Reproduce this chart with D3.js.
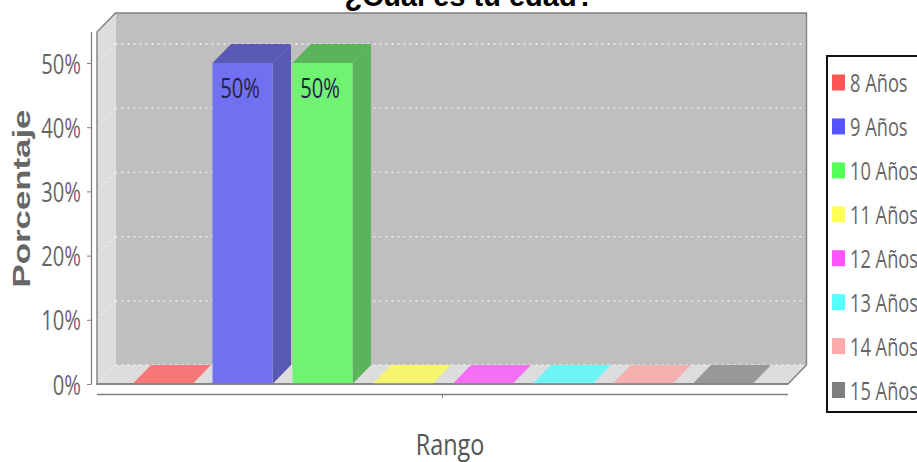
<!DOCTYPE html>
<html><head><meta charset="utf-8">
<script src="https://cdn.jsdelivr.net/npm/d3@7"></script>
<style>html,body{margin:0;padding:0;background:#fff;overflow:hidden}svg{display:block}</style>
</head><body><svg id="c" width="917" height="462"></svg>
<script>
const categories=["8 Años","9 Años","10 Años","11 Años","12 Años","13 Años","14 Años","15 Años"];
const values=[0,50,50,0,0,0,0,0];
const legendColors=["#ff5555","#5555ff","#55ff55","#ffff55","#ff55ff","#55ffff","#ffaaaa","#808080"];
const frontColors=["#f77777","#7070f0","#72f272","#f5f56f","#f56ff5","#6ff5f5","#f5b0b0","#989898"];
const sideColors=["#b45a5a","#5a5ab4","#5bb35b","#b4b45a","#b45ab4","#5ab4b4","#b48a8a","#707070"];
const yTicks=[0,10,20,30,40,50];
const title="¿Cuál es tu edad?", yTitle="Porcentaje", xTitle="Rango";

const svg=d3.select("#c");
const W=691,dx=18.5,dy=-19,x0=97,y0=384;
const y=d3.scaleLinear().domain([0,50]).range([384,63]);
const yTop=32;
const x=d3.scaleBand().domain(categories).range([x0,x0+W]).paddingInner(.25).paddingOuter(.444);
const poly=p=>p.map(d=>d.join(",")).join(" ");
const xr=x0+W;
const FONT="Open Sans";
// walls
svg.append("polygon").attr("points",poly([[x0+dx,yTop+dy],[xr+dx,yTop+dy],[xr+dx,y0+dy],[x0+dx,y0+dy]])).attr("fill","#bfbfbf");
svg.append("polygon").attr("points",poly([[x0,yTop],[x0+dx,yTop+dy],[x0+dx,y0+dy],[x0,y0]])).attr("fill","#dddddd");
svg.append("polygon").attr("points",poly([[x0,y0],[x0+dx,y0+dy],[xr+dx,y0+dy],[xr,y0]])).attr("fill","#dddddd");
// grid
yTicks.forEach(t=>{
 svg.append("line").attr("x1",x0+dx).attr("x2",xr+dx).attr("y1",y(t)+dy).attr("y2",y(t)+dy).attr("stroke","#f2f2f2").attr("stroke-width",1.3).attr("stroke-dasharray","2 4");
 svg.append("line").attr("x1",x0).attr("x2",x0+dx).attr("y1",y(t)).attr("y2",y(t)+dy).attr("stroke","#f2f2f2").attr("stroke-width",1.3).attr("stroke-dasharray","2 4");
});
// outline
svg.append("path").attr("d",`M${x0},${y0}V${yTop}L${x0+dx},${yTop+dy}H${xr+dx}V${y0+dy}L${xr},${y0}Z`).attr("fill","none").attr("stroke","#808080").attr("stroke-width",1.4);
// bars
categories.forEach((c,i)=>{
 const X=x(c),w=x.bandwidth(),Y=y(values[i]);
 const g=svg.append("g");
 g.append("polygon").attr("points",poly([[X+w,Y],[X+w+dx,Y+dy],[X+w+dx,y0+dy],[X+w,y0]])).attr("fill",sideColors[i]);
 g.append("polygon").attr("points",poly([[X,Y],[X+dx,Y+dy],[X+w+dx,Y+dy],[X+w,Y]])).attr("fill",values[i]?sideColors[i]:frontColors[i]);
 g.append("rect").attr("x",X).attr("y",Y).attr("width",w).attr("height",y0-Y).attr("fill",frontColors[i]);
 if(values[i]) g.append("text").attr("transform",`translate(${X+w/2-2.5},98) scale(.72,1)`).attr("text-anchor","middle")
   .attr("font-family",FONT).attr("font-size",28).attr("fill","#23234a").text(values[i]+"%");
});
svg.append("line").attr("x1",x0-1).attr("x2",xr).attr("y1",y0).attr("y2",y0).attr("stroke","#808080").attr("stroke-width",1.4);
// axes
const ya=svg.append("g").attr("transform","translate(91,0)").call(d3.axisLeft(y).tickValues(yTicks).tickSize(4).tickPadding(0).tickFormat(()=>""));
ya.select(".domain").attr("d",`M0.5,${yTop}V${y0+.5}`).attr("stroke","#808080").attr("stroke-width",1.3);
ya.selectAll(".tick line").attr("stroke","#808080");
yTicks.forEach(t=>{
 svg.append("text").attr("transform",`translate(81,${y(t)+10.5}) scale(.72,1)`).attr("text-anchor","end")
  .attr("font-family",FONT).attr("font-size",28).attr("fill","#666").text(t+"%");
});
const xb=d3.scaleBand().domain(["Rango"]).range([x0,xr]);
const xa=svg.append("g").attr("transform","translate(0,394)").call(d3.axisBottom(xb).tickSize(4).tickFormat(""));
xa.select(".domain").attr("d",`M${x0},0.5H${xr}`).attr("stroke","#808080").attr("stroke-width",1.3);
xa.selectAll(".tick line").attr("stroke","#808080");
// titles
svg.append("text").attr("x",469.5).attr("y",6).attr("text-anchor","middle").attr("font-family","Liberation Sans").attr("font-weight","bold").attr("font-size",29).attr("fill","#000").text(title);
svg.append("text").attr("transform","translate(30,198.5) rotate(-90) scale(1.45,1)").attr("text-anchor","middle").attr("font-family","Liberation Sans").attr("font-weight","bold").attr("font-size",24).attr("fill","#666").text(yTitle);
svg.append("text").attr("transform","translate(450,454.5) scale(.78,1)").attr("text-anchor","middle").attr("font-family",FONT).attr("font-size",30).attr("fill","#555").text(xTitle);
// legend
svg.append("rect").attr("x",827).attr("y",56).attr("width",110).attr("height",356).attr("fill","#fff").attr("stroke","#111").attr("stroke-width",2);
const ly=d3.scalePoint().domain(categories).range([82,389.5]);
categories.forEach((c,i)=>{
 svg.append("rect").attr("x",832).attr("y",ly(c)-7.5).attr("width",13).attr("height",16).attr("fill",legendColors[i]);
 svg.append("text").attr("transform",`translate(850,${ly(c)+10}) scale(.73,1)`).attr("font-family",FONT).attr("font-size",25).attr("fill","#666").text(c);
});
</script></body></html>
